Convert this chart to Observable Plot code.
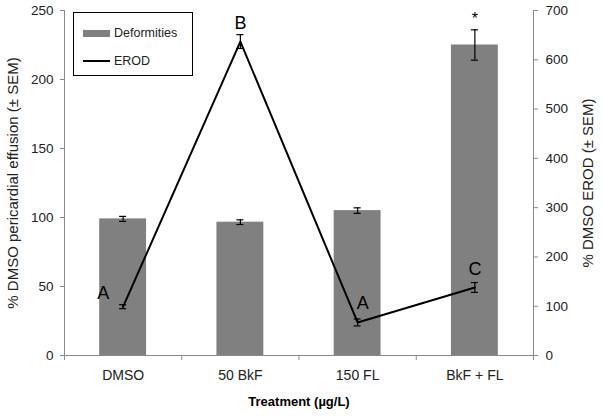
<!DOCTYPE html>
<html><head><meta charset="utf-8">
<script src="https://cdn.jsdelivr.net/npm/d3@7"></script>
<script src="https://cdn.jsdelivr.net/npm/@observablehq/plot@0.6"></script>
<style>
body{margin:0;background:#fff;font-family:"Liberation Sans",Arial,sans-serif;}
#wrap{position:relative;width:602px;height:419px;}
#legend{position:absolute;left:73px;top:12px;width:118px;height:62px;border:1px solid #000;background:#fff;color:#222;}
#legend .row{position:absolute;left:9px;height:16px;display:flex;align-items:center;font-size:12.5px;}
#legend .sw{display:inline-block;width:27px;margin-right:4px;}
</style></head><body>
<div id="wrap"></div>
<script>
const categories = ["DMSO", "50 BkF", "150 FL", "BkF + FL"];
const deformities = [99, 96.6, 105, 225];
const deformErr = [1.8, 1.7, 2, 11];
const erod = [99, 637, 67, 138];
const erodErr = [4, 14, 7, 10];
const erodLetters = ["A", "B", "A", "C"];
const deformLetters = ["", "", "", "*"];
const leftTicks = [0, 50, 100, 150, 200, 250];
const rightTicks = [0, 100, 200, 300, 400, 500, 600, 700];
const legendItems = ["Deformities", "EROD"];

const k = 250 / 700;
const data = categories.map((c, i) => ({
  c, x: i + 0.5,
  d: deformities[i], de: deformErr[i],
  e: erod[i] * k, ee: erodErr[i] * k,
  el: erodLetters[i], dl: deformLetters[i]
}));
const cap = 0.03;
const axisGray = "#8a8a8a";

const chart = Plot.plot({
  width: 602, height: 419,
  marginLeft: 64, marginRight: 69, marginTop: 10, marginBottom: 64,
  style: {fontFamily: "'Liberation Sans', Arial, sans-serif", fontSize: "13px", color: "#222", background: "#fff"},
  x: {domain: [0, 4]},
  y: {domain: [0, 250]},
  marks: [
    Plot.rectY(data, {x1: d => d.x - 0.2, x2: d => d.x + 0.2, y: "d", fill: "#808080"}),
    Plot.ruleX(data, {x: "x", y1: d => d.d - d.de, y2: d => d.d + d.de, stroke: "#000", strokeWidth: 1.2}),
    Plot.ruleY(data, {y: d => d.d + d.de, x1: d => d.x - cap, x2: d => d.x + cap, stroke: "#000", strokeWidth: 1.2}),
    Plot.ruleY(data, {y: d => d.d - d.de, x1: d => d.x - cap, x2: d => d.x + cap, stroke: "#000", strokeWidth: 1.2}),
    Plot.line(data, {x: "x", y: "e", stroke: "#000", strokeWidth: 2}),
    Plot.ruleX(data, {x: "x", y1: d => d.e - d.ee, y2: d => d.e + d.ee, stroke: "#000", strokeWidth: 1.2}),
    Plot.ruleY(data, {y: d => d.e + d.ee, x1: d => d.x - cap, x2: d => d.x + cap, stroke: "#000", strokeWidth: 1.2}),
    Plot.ruleY(data, {y: d => d.e - d.ee, x1: d => d.x - cap, x2: d => d.x + cap, stroke: "#000", strokeWidth: 1.2}),
    // letters
    Plot.text(data.filter((d, i) => i === 0), {x: "x", y: d => d.e + d.ee, text: "el", dx: -20, dy: -12, fontSize: 18, fill: "#000"}),
    Plot.text(data.filter((d, i) => i === 1), {x: "x", y: d => d.e + d.ee, text: "el", dy: -11, fontSize: 18, fill: "#000"}),
    Plot.text(data.filter((d, i) => i === 2), {x: "x", y: d => d.e + d.ee, text: "el", dx: 5, dy: -16, fontSize: 18, fill: "#000"}),
    Plot.text(data.filter((d, i) => i === 3), {x: "x", y: d => d.e + d.ee, text: "el", dy: -13, fontSize: 18, fill: "#000"}),
    Plot.text(data.filter(d => d.dl), {x: "x", y: d => d.d + d.de, text: "dl", dy: -11, fontSize: 16, fill: "#000"}),
    // axis lines
    Plot.ruleX([0, 4], {stroke: axisGray}),
    Plot.ruleY([0], {stroke: axisGray}),
    // axes
    Plot.axisY(leftTicks, {anchor: "left", tickSize: 4, tickPadding: 7, stroke: axisGray, fill: "#222", fontSize: 13.5, label: null}),
    Plot.axisY(rightTicks.map(v => v * k), {anchor: "right", tickSize: 4, tickPadding: 8, stroke: axisGray, fill: "#222", fontSize: 13.5, tickFormat: v => String(Math.round(v / k)), label: null}),
    Plot.axisX([0, 1, 2, 3, 4], {tickSize: 5, stroke: axisGray, tickFormat: () => "", label: null}),
    Plot.axisX([0.5, 1.5, 2.5, 3.5], {tickSize: 0, tickPadding: 15, fill: "#222", fontSize: 14, tickFormat: v => categories[Math.floor(v)], label: null}),
    // titles
    Plot.text(["% DMSO pericardial effusion (± SEM)"], {frameAnchor: "left", textAnchor: "middle", lineAnchor: "middle", rotate: -90, dx: -51, fontSize: 15, fill: "#222"}),
    Plot.text(["% DMSO EROD (± SEM)"], {frameAnchor: "right", textAnchor: "middle", lineAnchor: "middle", rotate: -90, dx: 55, fontSize: 15, fill: "#222"}),
    Plot.text(["Treatment (µg/L)"], {frameAnchor: "bottom", dy: 50, fontSize: 13, fontWeight: "bold", fill: "#000"})
  ]
});

const wrap = document.getElementById("wrap");
wrap.appendChild(chart);
const legend = document.createElement("div");
legend.id = "legend";
legend.innerHTML =
  `<div class="row" style="top:20px;transform:translateY(-50%)"><span class="sw" style="height:7px;background:#808080"></span>${legendItems[0]}</div>` +
  `<div class="row" style="top:48px;transform:translateY(-50%)"><span class="sw" style="height:2px;background:#000"></span>${legendItems[1]}</div>`;
wrap.appendChild(legend);
</script>
</body></html>
